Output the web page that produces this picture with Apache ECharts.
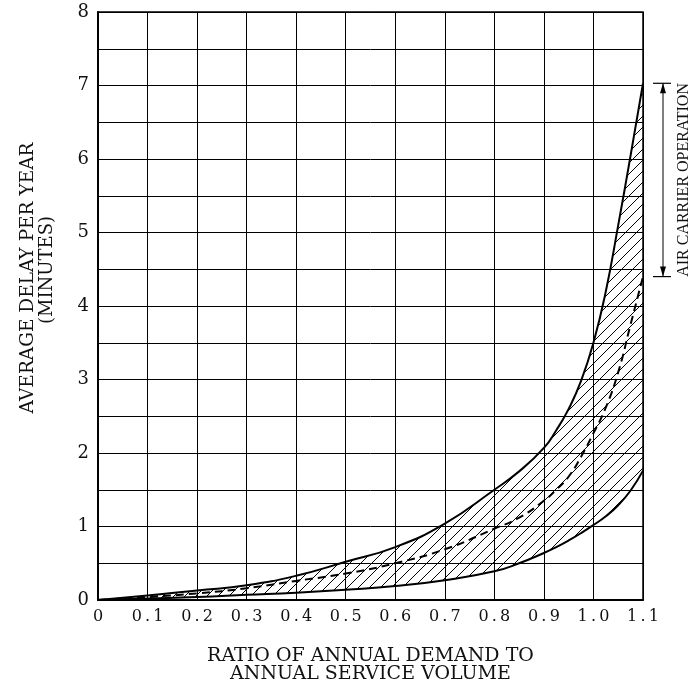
<!DOCTYPE html>
<html>
<head>
<meta charset="utf-8">
<script src="https://cdn.jsdelivr.net/npm/echarts@6/dist/echarts.min.js"></script>
<style>
  html, body { margin: 0; padding: 0; background: #fff; }
  #chart { width: 700px; height: 685px; }
</style>
</head>
<body>
<div id="chart"></div>
<script>
// ratio of annual demand to annual service volume
const ratio = [0, 0.1, 0.2, 0.3, 0.4, 0.5, 0.6, 0.7, 0.8, 0.85, 0.9, 0.925, 0.95, 0.975, 1.0, 1.025, 1.05, 1.075, 1.1];
// average delay per year (minutes)
const upperDelay = [0, 0.06, 0.13, 0.2, 0.33, 0.52, 0.72, 1.04, 1.5, 1.75, 2.07, 2.31, 2.6, 2.98, 3.5, 4.2, 5.1, 6.05, 7.03];
const midDelay = [0, 0.04, 0.09, 0.16, 0.26, 0.36, 0.5, 0.69, 0.97, 1.12, 1.35, 1.5, 1.68, 1.95, 2.27, 2.62, 3.1, 3.75, 4.4];
const lowerDelay = [0, 0.02, 0.04, 0.07, 0.1, 0.14, 0.19, 0.27, 0.39, 0.5, 0.64, 0.72, 0.81, 0.91, 1.02, 1.14, 1.29, 1.49, 1.76];

const serif = "'DejaVu Serif', 'Liberation Serif', serif";

// hatch tile for the band
function hatch() {
  const c = document.createElement('canvas');
  c.width = 11; c.height = 11;
  const g = c.getContext('2d');
  g.strokeStyle = '#000';
  g.lineWidth = 1;
  g.beginPath();
  g.moveTo(-1, 12); g.lineTo(12, -1);
  g.moveTo(-1, 1); g.lineTo(1, -1);
  g.moveTo(10, 12); g.lineTo(12, 10);
  g.stroke();
  return c;
}

const pts = (ys) => ratio.map((x, i) => [x, ys[i]]);
// stacked pair: delay first so the stack sums delay, not ratio
const swapped = (ys) => ratio.map((x, i) => [ys[i], x]);
const bandHeight = upperDelay.map((u, i) => +(u - lowerDelay[i]).toFixed(3));

const chart = echarts.init(document.getElementById('chart'));

chart.setOption({
  animation: false,
  grid: {
    left: 98, right: 57, top: 12, bottom: 85,
    containLabel: false, outerBoundsMode: 'none',
    show: true, borderColor: '#000', borderWidth: 1.5
  },
  xAxis: {
    type: 'value',
    min: 0, max: 1.1, interval: 0.1,
    name: 'RATIO OF ANNUAL DEMAND TO\nANNUAL SERVICE VOLUME',
    nameLocation: 'middle',
    nameGap: 47,
    nameTextStyle: { fontFamily: serif, fontSize: 19, color: '#111', lineHeight: 18 },
    axisLine: { lineStyle: { color: '#000', width: 2 } },
    axisTick: { show: false },
    axisLabel: {
      fontFamily: serif, fontSize: 16, color: '#111', margin: 9,
      formatter: v => v === 0 ? '0' : v.toFixed(1).split('').join('\u2009')
    },
    splitLine: { show: true, lineStyle: { color: '#000', width: 1 } }
  },
  yAxis: {
    type: 'value',
    min: 0, max: 8, interval: 0.5,
    axisLine: { show: true, lineStyle: { color: '#000', width: 2 } },
    axisTick: { show: false },
    axisLabel: {
      fontFamily: serif, fontSize: 18, color: '#111', margin: 9,
      formatter: v => Number.isInteger(v) ? String(v) : ''
    },
    splitLine: { show: true, lineStyle: { color: '#000', width: 1 } }
  },
  series: [
    {
      name: 'lower', type: 'line', data: swapped(lowerDelay), encode: { x: 1, y: 0 },
      stack: 'band', smooth: 0.5, symbol: 'none',
      lineStyle: { color: '#000', width: 2 }, z: 4
    },
    {
      name: 'band', type: 'line', data: swapped(bandHeight), encode: { x: 1, y: 0 },
      stack: 'band', smooth: 0.5, symbol: 'none',
      lineStyle: { width: 0, opacity: 0 },
      areaStyle: { color: { image: hatch(), repeat: 'repeat' }, opacity: 1 }, z: 3
    },
    {
      name: 'upper', type: 'line', data: pts(upperDelay),
      smooth: 0.5, symbol: 'none',
      lineStyle: { color: '#000', width: 2 }, z: 4
    },
    {
      name: 'mid', type: 'line', data: pts(midDelay),
      smooth: 0.5, symbol: 'none',
      lineStyle: { color: '#000', width: 2, type: [8, 5] }, z: 4
    }
  ]
});

// bracket for air carrier operation, placed with the axis scale
const yTop = chart.convertToPixel({ yAxisIndex: 0 }, upperDelay[upperDelay.length - 1]);
const yBot = chart.convertToPixel({ yAxisIndex: 0 }, midDelay[midDelay.length - 1]);
const ax = 663;
chart.setOption({
  graphic: [
    { type: 'line', shape: { x1: ax, y1: yTop, x2: ax, y2: yBot }, style: { stroke: '#000', lineWidth: 1 } },
    { type: 'line', shape: { x1: ax - 10, y1: yTop, x2: ax + 8, y2: yTop }, style: { stroke: '#000', lineWidth: 1.2 } },
    { type: 'line', shape: { x1: ax - 10, y1: yBot, x2: ax + 8, y2: yBot }, style: { stroke: '#000', lineWidth: 1.2 } },
    { type: 'polygon', shape: { points: [[ax, yTop], [ax - 3, yTop + 10], [ax + 3, yTop + 10]] }, style: { fill: '#000' } },
    { type: 'polygon', shape: { points: [[ax, yBot], [ax - 3, yBot - 10], [ax + 3, yBot - 10]] }, style: { fill: '#000' } },
    {
      type: 'text', x: 684, y: (yTop + yBot) / 2, rotation: Math.PI / 2,
      style: { text: 'AIR CARRIER OPERATION', fontFamily: "'Liberation Serif', serif", fontSize: 16, fill: '#111', align: 'center', verticalAlign: 'middle' }
    },
    {
      type: 'text', x: 28, y: 278, rotation: Math.PI / 2,
      style: { text: 'AVERAGE DELAY PER YEAR', fontFamily: serif, fontSize: 18.5, fill: '#111', align: 'center', verticalAlign: 'middle' }
    },
    {
      type: 'text', x: 47, y: 270, rotation: Math.PI / 2,
      style: { text: '(MINUTES)', fontFamily: serif, fontSize: 18, fill: '#111', align: 'center', verticalAlign: 'middle' }
    }
  ]
});
</script>
</body>
</html>
